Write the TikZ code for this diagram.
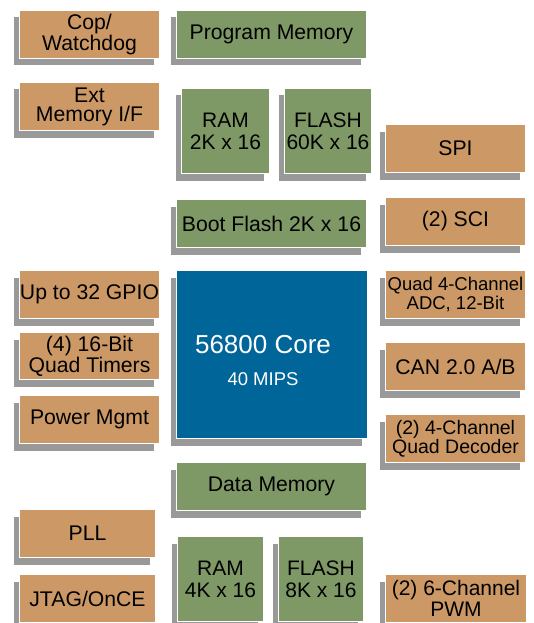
\documentclass[tikz,border=0pt]{standalone}
\usepackage{fontspec}
\setmainfont{Liberation Sans}
\usepackage{xcolor}
\usetikzlibrary{shadows}
\definecolor{periphtan}{HTML}{CC9966}
\definecolor{memgreen}{HTML}{7F9966}
\definecolor{coreblue}{HTML}{006699}
\definecolor{shadowgrey}{HTML}{999999}
\tikzset{
    block/.style    = { rectangle, draw=white, line width=1pt, inner sep=0pt,
	anchor=north west, align=center,
	drop shadow={shadow xshift=-6pt, shadow yshift=-7pt, fill=shadowgrey, opacity=1},
	font=\fontsize{21.2}{19}\selectfont },
	periph/.style   = { block, fill=periphtan },
	mem/.style      = { block, fill=memgreen },
	memcell/.style  = { mem, font=\fontsize{21}{22}\selectfont },
	core/.style     = { block, fill=coreblue },
	corefont/.style = { text=white, align=center, font=\fontsize{26}{32}\selectfont },
}

\begin{document}
\begin{tikzpicture}[x=1pt, y=-1pt]
				\useasboundingbox (0,0) rectangle (534,623);
				\node (cop)     [periph, minimum width=140pt, minimum height=48pt] at (19,10)  {Cop/\\Watchdog};
				\node (extmem)  [periph, minimum width=140pt, minimum height=48pt] at (19,82)  {Ext\\Memory I/F};
				\node (gpio)    [periph, minimum width=140pt, minimum height=48pt] at (19,270) {Up to 32 GPIO};
				\node (timers)  [periph, minimum width=140pt, minimum height=47pt] at (19,332) {(4) 16-Bit\\Quad Timers};
				\node (power)   [periph, minimum width=140pt, minimum height=48pt] at (19,395) {Power Mgmt};
				\node (pll)     [periph, minimum width=136pt, minimum height=48pt] at (19,509) {PLL};
				\node (jtag)    [periph, minimum width=136pt, minimum height=48pt] at (19,574) {JTAG/OnCE};
				\node (progmem) [mem, minimum width=190pt, minimum height=48pt] at (176,10) {Program Memory};
				\node (ramp)    [memcell, minimum width=88pt, minimum height=85pt] at (181,88) {RAM\\2K x 16};
				\node (flashp)  [memcell, minimum width=87pt, minimum height=85pt] at (284,88) {FLASH\\60K x 16};
				\node (boot)    [mem, minimum width=190pt, minimum height=48pt] at (176,199) {Boot Flash 2K x 16};
				\node (cpu)     [core, minimum width=191pt, minimum height=168pt] at (176,270) {};
				\node (cputext) [corefont] at ([xshift=-9pt, yshift=-6pt]cpu.center) {56800 Core\\{\fontsize{18.5}{32}\selectfont 40 MIPS}};
				\node (datamem) [mem, minimum width=190pt, minimum height=48pt] at (176,462) {Data Memory};
				\node (ramd)    [memcell, minimum width=86pt, minimum height=85pt] at (177,536) {RAM\\4K x 16};
				\node (flashd)  [memcell, minimum width=85pt, minimum height=85pt] at (278,536) {FLASH\\8K x 16};
				\node (spi)     [periph, minimum width=140pt, minimum height=48pt] at (385,124) {SPI};
				\node (sci)     [periph, minimum width=140pt, minimum height=48pt] at (385,197) {(2) SCI};
				\node (adc)     [periph, minimum width=140pt, minimum height=48pt, font=\fontsize{18.5}{19}\selectfont] at (385,270) {Quad 4-Channel\\ADC, 12-Bit};
				\node (can)     [periph, minimum width=140pt, minimum height=48pt] at (385,342) {CAN 2.0 A/B};
				\node (decoder) [periph, minimum width=140pt, minimum height=48pt, font=\fontsize{19.5}{19}\selectfont] at (385,414) {(2) 4-Channel\\Quad Decoder};
				\node (pwm)     [periph, minimum width=141pt, minimum height=48pt, font=\fontsize{21}{20.5}\selectfont] at (385,574) {(2) 6-Channel\\PWM};
\end{tikzpicture}
\end{document}
